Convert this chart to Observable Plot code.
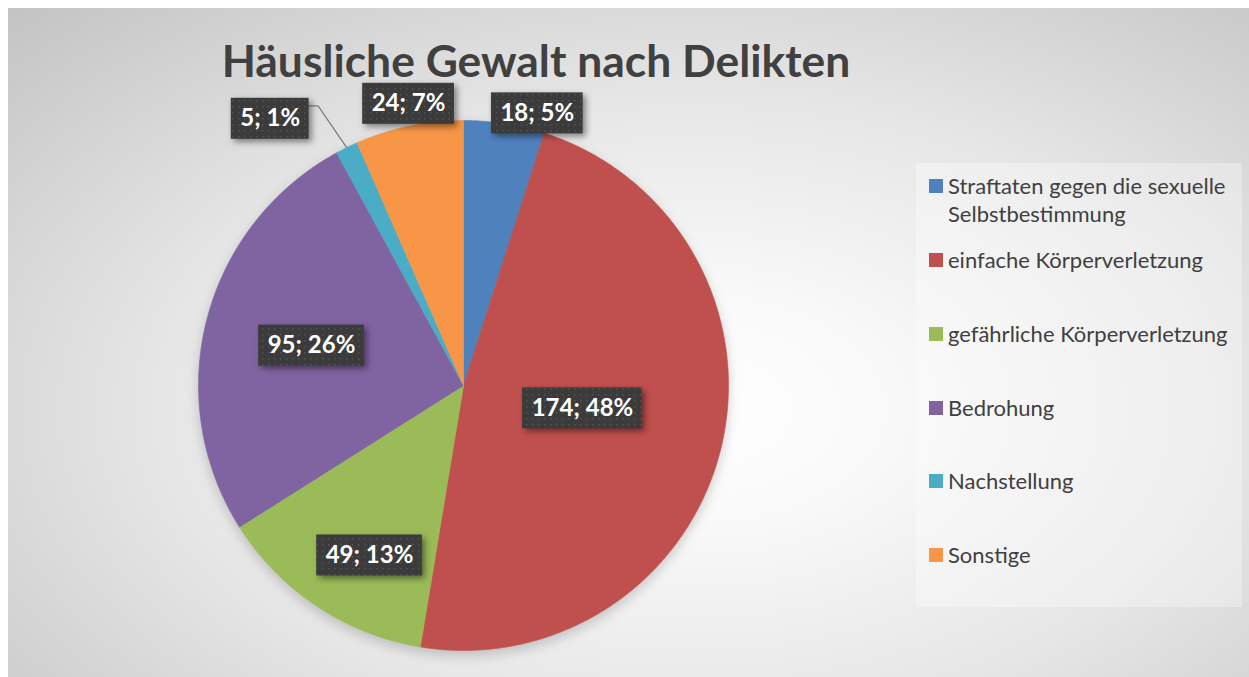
<!DOCTYPE html>
<html><head><meta charset="utf-8">
<script src="https://cdn.jsdelivr.net/npm/d3@7"></script>
<script src="https://cdn.jsdelivr.net/npm/@observablehq/plot@0.6"></script>
<style>
html,body{margin:0;padding:0;background:#fff;width:1249px;height:677px;overflow:hidden;}
#frame{position:absolute;left:8px;top:8px;width:1241px;height:669px;overflow:hidden;
  background: radial-gradient(ellipse farthest-corner at 55% 60%, #ffffff 0%, #f9f9f9 20%, #e6e6e6 55%, #c3c3c3 100%);}
#title{position:absolute;left:128px;width:800px;top:34px;text-align:center;font-family:Lato,"Open Sans",sans-serif;font-weight:bold;color:#404040;line-height:1;white-space:nowrap;}
#legend{position:absolute;left:908px;top:155px;width:326px;height:444px;background:rgba(255,255,255,0.32);}
.item{position:absolute;left:13px;width:310px;font-family:Lato,"Open Sans",sans-serif;font-size:22px;line-height:28px;color:#404040;}
.sw{position:absolute;left:0;width:14px;height:14px;top:7px;}
.tx{position:absolute;left:19px;width:292px;}
#chart{position:absolute;left:0;top:0;}
#chart g[aria-label="rect"] rect{filter:drop-shadow(3px 3px 3px rgba(0,0,0,0.45));}
#chart g[aria-label="line"]:first-of-type{filter:drop-shadow(0px 5px 6px rgba(0,0,0,0.18));}
</style>
</head><body>
<svg width="0" height="0" style="position:absolute">
  <defs>
    <pattern id="dots" width="6" height="6" patternUnits="userSpaceOnUse">
      <rect width="6" height="6" fill="#3b3b3b"></rect>
      <rect x="2" y="2" width="1.5" height="1.5" fill="#525252"></rect>
    </pattern>
  </defs>
</svg>
<div id="frame">
  <div id="chart"></div>
  <div id="title"></div>
  <div id="legend"></div>
</div>
<script>
// ---- data ----
const categories = ["Straftaten gegen die sexuelle Selbstbestimmung", "einfache Körperverletzung", "gefährliche Körperverletzung", "Bedrohung", "Nachstellung", "Sonstige"];
const values = [18, 174, 49, 95, 5, 24];
const colors = ["#4f81bd", "#c0504d", "#9bbb59", "#8064a2", "#4bacc6", "#f79646"];
const title = "Häusliche Gewalt nach Delikten";
// label placement: distance from centre (pie radii) and angle shift from slice middle (degrees)
const labelRadius = [1.064, 0.457, 0.733, 0.593, 1.243, 1.083];
const labelShift = [6.3, -2.7, -4.6, 0.15, -9.8, 0.8];

// ---- geometry ----
const R = 265, cx = 455, cy = 377;
const total = d3.sum(values);
const arcs = d3.pie().sort(null).value(d => d)(values);
const pts = [];
arcs.forEach((a, i) => {
  const cat = categories[i];
  pts.push({cat, x: 0, y: 0});
  const n = Math.max(2, Math.ceil((a.endAngle - a.startAngle) / (Math.PI / 360)));
  for (let k = 0; k <= n; k++) {
    const t = a.startAngle + (a.endAngle - a.startAngle) * k / n;
    pts.push({cat, x: Math.sin(t), y: Math.cos(t)});
  }
  pts.push({cat, x: 0, y: 0});
});

const labelSize = 24;
const ctx = document.createElement("canvas").getContext("2d");
ctx.font = `bold ${labelSize}px Lato`;
const labels = arcs.map((a, i) => {
  const mid = (a.startAngle + a.endAngle) / 2;
  const ang = mid + labelShift[i] * Math.PI / 180;
  const x = labelRadius[i] * Math.sin(ang), y = labelRadius[i] * Math.cos(ang);
  const text = `${values[i]}; ${Math.round(values[i] / total * 100)}%`;
  const w = ctx.measureText(text).width;
  const hw = (w / 2 + 9) / R, hh = 20.5 / R;
  return {text, x, y, x1: x - hw, x2: x + hw, y1: y - hh, y2: y + hh, mid};
});
// leader line for the small slice (Nachstellung)
const L = labels[4];
const leader = [
  {x: Math.sin(L.mid), y: Math.cos(L.mid)},
  {x: L.x2 + 9 / R, y: L.y + 13 / R},
  {x: L.x2, y: L.y + 13 / R}
];

const plot = Plot.plot({
  width: 1241, height: 669, margin: 0,
  style: {background: "transparent", overflow: "visible"},
  x: {domain: [-1, 1], range: [cx - R, cx + R], axis: null},
  y: {domain: [-1, 1], range: [cy + R, cy - R], axis: null},
  color: {domain: categories, range: colors},
  marks: [
    Plot.line(pts, {x: "x", y: "y", z: "cat", fill: "cat", stroke: "cat", strokeWidth: 0.6, curve: "linear"}),
    Plot.line(leader, {x: "x", y: "y", stroke: "#808080", strokeWidth: 1.3}),
    Plot.rect(labels, {x1: "x1", x2: "x2", y1: "y1", y2: "y2", fill: "url(#dots)"}),
    Plot.text(labels, {x: "x", y: "y", text: "text", fill: "white", fontWeight: "bold", fontSize: labelSize, fontFamily: "Lato"})
  ]
});
document.getElementById("chart").appendChild(plot);

// ---- title ----
const t = document.getElementById("title");
t.textContent = title;
ctx.font = "bold 40px Lato";
const fs = 40 * 628 / ctx.measureText(title).width;
t.style.fontSize = fs.toFixed(1) + "px";
t.style.top = (77 - 8 - (0.887 * fs)).toFixed(1) + "px";

// ---- legend ----
const leg = document.getElementById("legend");
const centers = [186, 260, 334, 408, 481, 555];
categories.forEach((c, i) => {
  const it = document.createElement("div");
  it.className = "item";
  it.style.top = (centers[i] - 8 - 155 - 14) + "px";
  it.innerHTML = `<div class="sw" style="background:${colors[i]}"></div><div class="tx"></div>`;
  it.querySelector(".tx").textContent = c;
  leg.appendChild(it);
});
</script>
</body></html>
